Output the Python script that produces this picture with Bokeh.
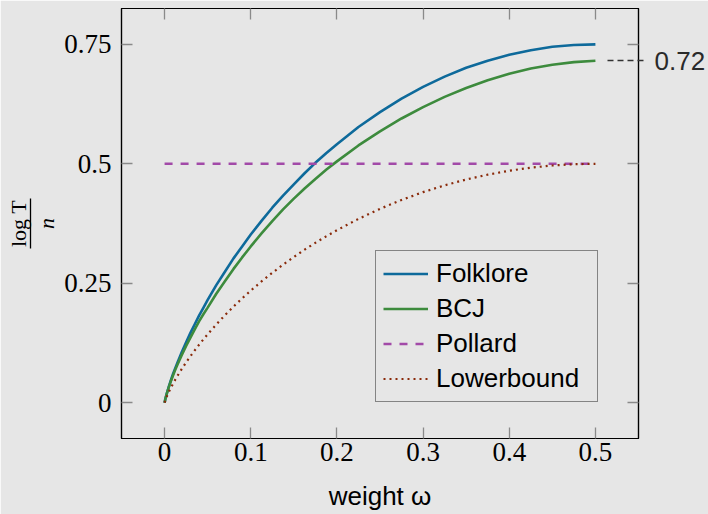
import math
from bokeh.plotting import figure
from bokeh.models import (LinearAxis, FixedTicker, Legend, LegendItem,
                          Range1d, NumeralTickFormatter)
from bokeh.embed import file_html
from bokeh.resources import INLINE

# ---- data ----
omega = [0, 0.001, 0.0025, 0.005, 0.0075, 0.01, 0.0125, 0.015, 0.02, 0.025,
         0.03, 0.035, 0.04, 0.045, 0.05, 0.06, 0.07, 0.08, 0.09, 0.1, 0.1125,
         0.125, 0.1375, 0.15, 0.1625, 0.175, 0.1875, 0.2, 0.225, 0.25, 0.275,
         0.3, 0.325, 0.35, 0.375, 0.4, 0.425, 0.45, 0.475, 0.5]
folklore = [0, 0.0086, 0.019, 0.034, 0.048, 0.061, 0.0727, 0.084, 0.106,
            0.1265, 0.146, 0.1642, 0.182, 0.1986, 0.215, 0.246, 0.274, 0.302,
            0.327, 0.352, 0.3806, 0.408, 0.4333, 0.457, 0.4802, 0.502,
            0.5222, 0.541, 0.5769, 0.608, 0.6365, 0.661, 0.6824, 0.701,
            0.7158, 0.728, 0.7378, 0.745, 0.7487, 0.75]
bcj = [0, 0.0085, 0.0186, 0.033, 0.046, 0.058, 0.0693, 0.080, 0.100, 0.1189,
       0.136, 0.1534, 0.170, 0.185, 0.199, 0.228, 0.254, 0.280, 0.304, 0.327,
       0.3542, 0.380, 0.4044, 0.427, 0.4482, 0.468, 0.4873, 0.505, 0.5384,
       0.568, 0.5948, 0.6187, 0.640, 0.6585, 0.6748, 0.6884, 0.6994, 0.7074,
       0.7127, 0.7155]
lowerbound = [0, 0.0057, 0.0126, 0.0227, 0.0319, 0.0404, 0.0485, 0.0562,
              0.0707, 0.0844, 0.0972, 0.1095, 0.1212, 0.1324, 0.1432, 0.1637,
              0.183, 0.2011, 0.2183, 0.2345, 0.2537, 0.2718, 0.2889, 0.3049,
              0.3202, 0.3346, 0.3481, 0.361, 0.3846, 0.4057, 0.4243, 0.4407,
              0.4549, 0.4671, 0.4772, 0.4855, 0.4919, 0.4964, 0.4991, 0.5]
pollard_x = [0, 0.5]
pollard_y = [0.5, 0.5]

x_ticks = [0, 0.1, 0.2, 0.3, 0.4, 0.5]
x_tick_labels = ["0", "0.1", "0.2", "0.3", "0.4", "0.5"]
y_ticks = [0, 0.25, 0.5, 0.75]
y_tick_labels = ["0", "0.25", "0.5", "0.75"]
bcj_end = 0.716

BG = "#e6e6e6"
SERIF = "Liberation Serif"
SANS = "Liberation Sans"

p = figure(width=708, height=514, output_backend="svg", toolbar_location=None,
           x_range=Range1d(-0.05, 0.55), y_range=Range1d(-0.075, 0.825),
           x_axis_location=None, y_axis_location=None,
           min_border_left=121, min_border_right=68, min_border_top=8,
           min_border_bottom=76)
p.background_fill_color = BG
p.border_fill_color = BG
p.outline_line_color = "black"
p.outline_line_width = 1.2
p.grid.visible = False

tick_col = "#8a8a8a"

def style(ax, labels=True):
    ax.axis_line_color = "black"
    ax.axis_line_width = 1.2
    ax.major_tick_in = 11
    ax.major_tick_out = 0
    ax.major_tick_line_color = tick_col
    ax.major_tick_line_width = 1.3
    ax.minor_tick_line_color = None
    if labels:
        ax.major_label_text_font = SERIF
        ax.major_label_text_font_size = "27px"
        ax.major_label_text_color = "black"
    else:
        ax.major_label_overrides = {t: " " for t in x_ticks + y_ticks}
        ax.major_label_text_font_size = "1px"
        ax.major_label_standoff = 0

# bottom axis with the x label
xb = LinearAxis(ticker=FixedTicker(ticks=x_ticks),
                major_label_overrides=dict(zip(x_ticks, x_tick_labels)))
style(xb)
xb.major_label_standoff = 4
xb.axis_label = "weight ω"
xb.axis_label_text_font = SANS
xb.axis_label_text_font_style = "normal"
xb.axis_label_text_font_size = "26px"
xb.axis_label_text_color = "black"
xb.axis_label_standoff = 17
p.add_layout(xb, "below")

# left axis with tick labels
yl = LinearAxis(ticker=FixedTicker(ticks=y_ticks),
                major_label_overrides=dict(zip(y_ticks, y_tick_labels)))
style(yl)
yl.major_label_standoff = 10
p.add_layout(yl, "left")

# y label as a fraction: "n" (denominator), bar, "log T" (numerator)
def label_axis(text, standoff, line=False, bounds="auto"):
    ax = LinearAxis(ticker=FixedTicker(ticks=[]), bounds=bounds)
    ax.major_tick_in = 0
    ax.major_tick_out = 0
    ax.minor_tick_in = 0
    ax.minor_tick_out = 0
    ax.major_label_standoff = 0
    ax.axis_line_color = "black" if line else None
    ax.axis_line_width = 1.3
    ax.axis_label = text
    ax.axis_label_text_font = SERIF
    ax.axis_label_text_font_style = "normal"
    ax.axis_label_text_font_size = "22px"
    ax.axis_label_text_color = "black"
    ax.axis_label_standoff = standoff
    return ax

den = label_axis("n", 3)
den.axis_label_text_font_style = "italic"
p.add_layout(den, "left")
num = label_axis("log T", 0, line=True, bounds=(0.3222, 0.4268))
p.add_layout(num, "left")

# top
xt = LinearAxis(ticker=FixedTicker(ticks=x_ticks))
style(xt, labels=False)
p.add_layout(xt, "above")
# right: minor ticks at y ticks, major tick at BCJ end value (dashed)
yr = LinearAxis(ticker=FixedTicker(ticks=[bcj_end], minor_ticks=y_ticks),
                formatter=NumeralTickFormatter(format="0.00"))
yr.axis_line_color = "black"
yr.axis_line_width = 1.2
yr.minor_tick_in = 11
yr.minor_tick_out = 0
yr.minor_tick_line_color = tick_col
yr.minor_tick_line_width = 1.3
yr.major_tick_in = 35
yr.major_tick_out = 5
yr.major_tick_line_color = "#333333"
yr.major_tick_line_width = 1.3
yr.major_tick_line_dash = "6 4"
yr.major_label_text_font = SANS
yr.major_label_text_font_size = "26px"
yr.major_label_text_color = "#2a2a2a"
yr.major_label_standoff = 11
p.add_layout(yr, "right")

r1 = p.line(omega, folklore, line_color="#0e6a9b", line_width=2.6)
r2 = p.line(omega, bcj, line_color="#3d8b3d", line_width=2.6)
r3 = p.line(pollard_x, pollard_y, line_color="#a24aa8", line_width=2.6,
            line_dash="8 8")
r4 = p.line(omega, lowerbound, line_color="#8a2a0a", line_width=2.2,
            line_dash="2 4")

legend = Legend(items=[LegendItem(label="Folklore", renderers=[r1]),
                       LegendItem(label="BCJ", renderers=[r2]),
                       LegendItem(label="Pollard", renderers=[r3]),
                       LegendItem(label="Lowerbound", renderers=[r4])],
                location=(254, 36))
legend.background_fill_alpha = 0
legend.border_line_color = "#222222"
legend.border_line_width = 1.5
legend.label_text_font = SANS
legend.label_text_font_size = "26px"
legend.label_text_color = "black"
legend.glyph_width = 45
legend.glyph_height = 31
legend.label_height = 31
legend.label_width = 154
legend.label_standoff = 8
legend.spacing = 4
legend.padding = 7
legend.margin = 0
p.add_layout(legend, "center")

open("out.html", "w").write(file_html(p, INLINE))
